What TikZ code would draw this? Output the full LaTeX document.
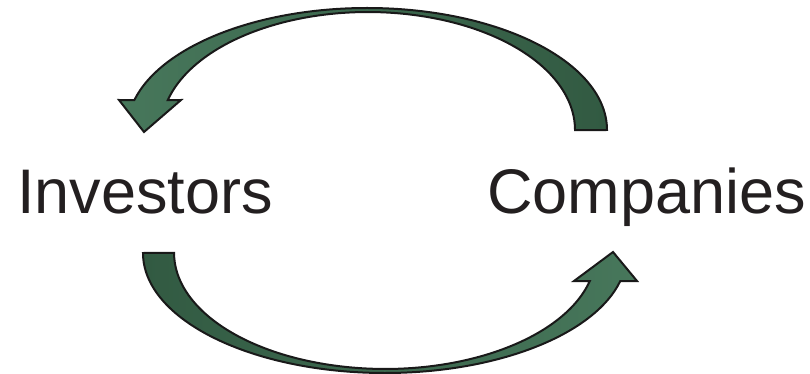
\documentclass[tikz,border=0pt]{standalone}
\usepackage{fontspec}
\setmainfont{Liberation Sans}
\definecolor{txt}{HTML}{231F20}
\definecolor{glight}{HTML}{47775B}
\definecolor{gdark}{HTML}{325A42}
\tikzset{
  label/.style={font=\fontsize{63}{72}\selectfont, text=txt, inner sep=0pt, anchor=base},
  blockarrow/.style={draw=black!90, line width=2pt, line join=miter}
}
\begin{document}
\begin{tikzpicture}[x=1pt,y=1pt]
\useasboundingbox (0,0) rectangle (810,-374);
% top arrow: Companies -> Investors
\path[blockarrow, left color=glight, right color=gdark]
  (607,-130) arc[start angle=0, end angle=165.8, x radius=240, y radius=122]
  -- (119,-100) -- (144,-132) -- (181,-100) -- (167.8,-100.1)
  arc[start angle=165.3, end angle=0, x radius=207, y radius=118] -- cycle;
% bottom arrow: Investors -> Companies
\path[blockarrow, left color=gdark, right color=glight]
  (143,-253) arc[start angle=180, end angle=346.5, x radius=242, y radius=120]
  -- (637,-281) -- (613,-252) -- (574,-281) -- (589.8,-281)
  arc[start angle=346.0, end angle=180, x radius=211, y radius=116] -- cycle;
\node[label] (inv) at (145,-213) {Investors};
\node[label] (comp) at (646.5,-213) {Companies};
\end{tikzpicture}
\end{document}
